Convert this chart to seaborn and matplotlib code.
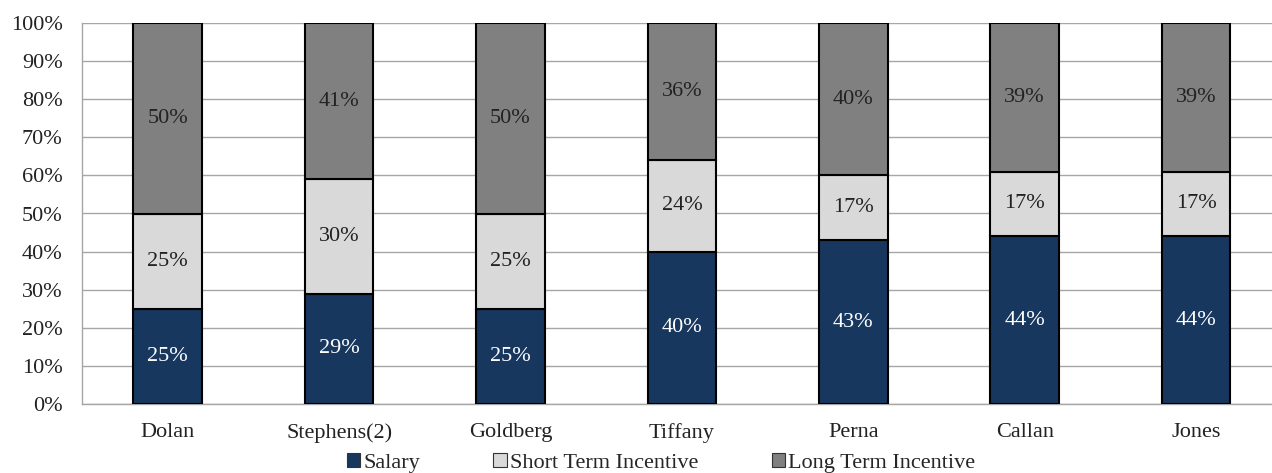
import numpy as np
import pandas as pd
import seaborn as sns
import matplotlib.pyplot as plt
import matplotlib.ticker as ticker
from matplotlib.patches import Patch

# pay mix per executive, percent of total compensation
names = ["Dolan", "Stephens(2)", "Goldberg", "Tiffany", "Perna", "Callan", "Jones"]
salary = [25, 29, 25, 40, 43, 44, 44]
short_term = [25, 30, 25, 24, 17, 17, 17]
long_term = [50, 41, 50, 36, 40, 39, 39]

series = ["Salary", "Short Term Incentive", "Long Term Incentive"]
colors = ["#17375E", "#D9D9D9", "#808080"]
label_colors = ["white", "#222222", "#222222"]

df = pd.DataFrame({"name": names, "Salary": salary,
                   "Short Term Incentive": short_term,
                   "Long Term Incentive": long_term})

sns.set_theme(style="white")
plt.rcParams['font.family'] = ['Liberation Serif', 'DejaVu Serif']

fig = plt.figure(figsize=(12.72, 4.73), dpi=100)
ax = fig.add_axes([82 / 1272, 69 / 473, 1190 / 1272, 381 / 473])

bottom = np.zeros(len(names))
for s, c, lc in zip(series, colors, label_colors):
    sns.barplot(data=df, x="name", y=s, color=c, bottom=bottom, width=0.4,
                edgecolor="black", linewidth=1.5, saturation=1, ax=ax,
                zorder=3)
    bars = ax.containers[-1]
    ax.bar_label(bars, labels=[f"{v}%" for v in df[s]], label_type="center",
                 color=lc, fontsize=16)
    bottom = bottom + df[s].values

ax.set_xlim(-0.5, -0.5 + 1190 / 171.4)
ax.set_ylim(0, 100)
ax.yaxis.set_major_locator(ticker.MultipleLocator(10))
ax.yaxis.set_major_formatter(ticker.FuncFormatter(lambda v, p: f"{v:.0f}%"))
ax.set_xlabel("")
ax.set_ylabel("")
ax.grid(axis="y", color="#A6A6A6", linewidth=1, zorder=0)
ax.grid(axis="x", visible=False)

for side in ["top", "right"]:
    ax.spines[side].set_visible(False)
for side in ["left", "bottom"]:
    ax.spines[side].set_color("#A6A6A6")
    ax.spines[side].set_linewidth(1)

# category boundary ticks on x, outward ticks on y
ax.xaxis.set_minor_locator(ticker.FixedLocator(np.arange(0.5, len(names), 1)))
ax.tick_params(axis="x", which="major", length=0, labelsize=16, pad=14)
ax.tick_params(axis="x", which="minor", length=5, color="#A6A6A6", direction="out")
ax.tick_params(axis="y", length=6, color="#A6A6A6", direction="out", labelsize=16, pad=8)
ax.tick_params(axis="both", colors="#A6A6A6", labelcolor="#222222")

handles = [Patch(facecolor=c, edgecolor="#333333", linewidth=0.8) for c in colors]
fig.legend(handles, series, loc="center", bbox_to_anchor=(661 / 1272, 1 - 463 / 473),
           ncol=3, frameon=False, fontsize=16, handlelength=0.6, handleheight=0.6,
           handletextpad=0.15, columnspacing=3.3)

fig.savefig("out.png", dpi=100)
